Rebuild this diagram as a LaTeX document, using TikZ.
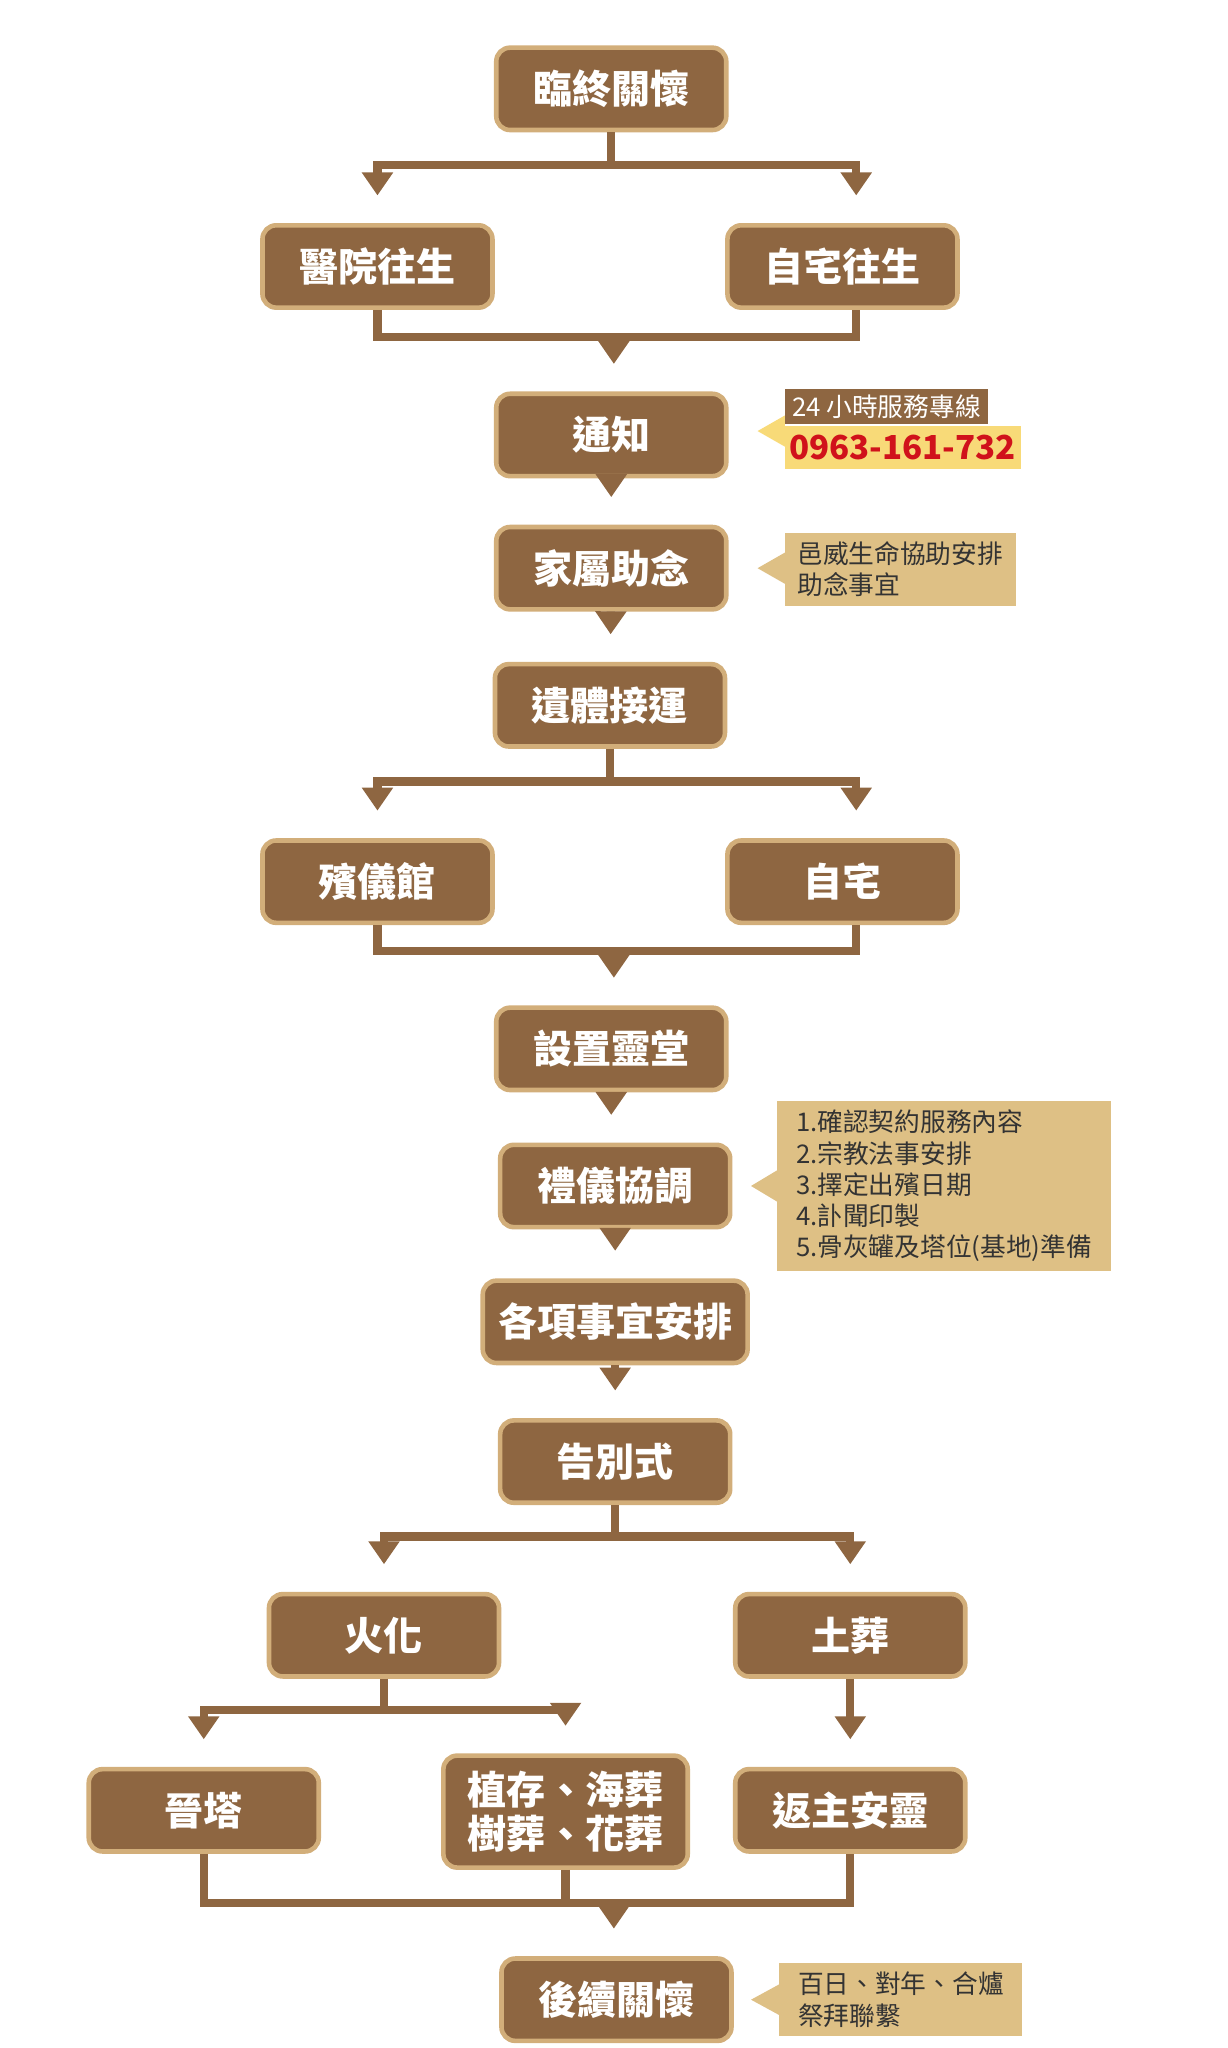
\documentclass[tikz,border=0pt]{standalone}
\usepackage{fontspec}
\setmainfont{Noto Sans CJK TC}
\usetikzlibrary{arrows.meta,positioning,calc}
\definecolor{boxbrown}{HTML}{8E6641}
\definecolor{boxedge}{HTML}{D2AE7A}
\definecolor{notetan}{HTML}{DEC085}
\definecolor{hotline}{HTML}{F8DA78}
\definecolor{phonered}{HTML}{D0121B}

\begin{document}
\begin{tikzpicture}[x=0.01cm,y=-0.01cm,
  stepbox/.style={rectangle,rounded corners=3pt,fill=boxbrown,draw=boxedge,line width=1pt,
    minimum width=1.76cm,minimum height=0.63cm,text=white,font=\fontsize{8.5}{10}\selectfont\bfseries,align=center},
  note/.style={rectangle,fill=notetan,text=black!80,font=\fontsize{5.6}{6.8}\selectfont,align=left,inner sep=2pt,anchor=west},
  flow/.style={boxbrown,line width=1.8pt,-{Triangle[width=6.5pt,length=5pt]},shorten >=6pt},
  mergeline/.style={boxbrown,line width=1.8pt}]
  \useasboundingbox (0,0) rectangle (940,1568);

  % boxes
  \node[stepbox] (care) at (468,68) {臨終關懷};
  \node[stepbox] (hosp) at (289,204) {醫院往生};
  \node[stepbox] (home) at (645,204) {自宅往生};
  \node[stepbox] (notify) at (468,333) {通知};
  \node[stepbox] (chant) at (468,435) {家屬助念};
  \node[stepbox] (move) at (467,540) {遺體接運};
  \node[stepbox] (parlor) at (289,675) {殯儀館};
  \node[stepbox] (house) at (645,675) {自宅};
  \node[stepbox] (hall) at (468,803) {設置靈堂};
  \node[stepbox] (rite) at (471,908) {禮儀協調};
  \node[stepbox,minimum width=1.87cm] (plan) at (471,1012) {各項事宜安排};
  \node[stepbox] (farewell) at (471,1119) {告別式};
  \node[stepbox] (cremate) at (294,1252) {火化};
  \node[stepbox] (bury) at (651,1252) {土葬};
  \node[stepbox] (tower) at (156,1386) {晉塔};
  \node[stepbox,minimum width=1.87cm,minimum height=0.68cm,font=\fontsize{8.5}{9.6}\selectfont\bfseries] (green) at (433,1387) {植存、海葬\\樹葬、花葬};
  \node[stepbox] (spirit) at (651,1386) {返主安靈};
  \node[stepbox] (after) at (472,1531) {後續關懷};

  % joints
  \coordinate (m1) at (470,258);
  \coordinate (m2) at (470,728);
  \coordinate (m3) at (470,1457);

  % connectors
  \draw[flow] (care.south) -- ++(0,25) -| (hosp.north);
  \draw[flow] (care.south) -- ++(0,25) -| ([xshift=3pt]home.north);
  \draw[mergeline] (hosp.south) |- (m1) -| ([xshift=3pt]home.south);
  \draw[flow] (m1) -- (m1 |- notify.north);
  \draw[flow] (notify) -- (chant);
  \draw[flow] (chant) -- (move);
  \draw[flow] (move.south) -- ++(0,25) -| (parlor.north);
  \draw[flow] (move.south) -- ++(0,25) -| ([xshift=3pt]house.north);
  \draw[mergeline] (parlor.south) |- (m2) -| ([xshift=3pt]house.south);
  \draw[flow] (m2) -- (m2 |- hall.north);
  \draw[flow] (hall.south) -- (hall.south |- rite.north);
  \draw[flow] (rite) -- (plan);
  \draw[flow] (plan) -- (farewell);
  \draw[flow] (farewell.south) -- ++(0,24) -| (cremate.north);
  \draw[flow] (farewell.south) -- ++(0,24) -| (bury.north);
  \draw[flow] (cremate.south) -- ++(0,24) -| (tower.north);
  \draw[flow] (cremate.south) -- ++(0,24) -| (green.north);
  \draw[flow] (bury) -- (spirit);
  \draw[mergeline] (tower.south) |- (m3) -| (spirit.south);
  \draw[mergeline] (green.south) -- (green.south |- m3);
  \draw[flow] (m3) -- (m3 |- after.north);

  % notes
  \node[note,fill=boxbrown,text=white,minimum width=1.56cm,minimum height=0.27cm,inner sep=1pt] (lineA) at (600,311) {24 小時服務專線};
  \node[note,fill=hotline,text=phonered,minimum width=1.56cm,minimum height=0.33cm,font=\fontsize{7.2}{8}\selectfont\bfseries,inner sep=1pt,below=0pt of lineA.south west,anchor=north west] (lineB) {0963-161-732};
  \fill[hotline] (580,330) -- (601,318) -- (601,342) -- cycle;
  \node[note,minimum width=1.77cm,minimum height=0.52cm] (chantnote) at (600,436) {邑威生命協助安排\\助念事宜};
  \fill[notetan] (580,435) -- (601,423) -- (601,447) -- cycle;
  \node[note,minimum width=2.56cm,minimum height=1.25cm] (ritenote) at (594,908) {1.確認契約服務內容\\2.宗教法事安排\\3.擇定出殯日期\\4.訃聞印製\\5.骨灰罐及塔位(基地)準備};
  \fill[notetan] (575,908) -- (595,896) -- (595,920) -- cycle;
  \node[note,minimum width=1.86cm,minimum height=0.53cm] (afternote) at (596,1531) {百日、對年、合爐\\祭拜聯繫};
  \fill[notetan] (575,1531) -- (597,1519) -- (597,1543) -- cycle;
\end{tikzpicture}
\end{document}
